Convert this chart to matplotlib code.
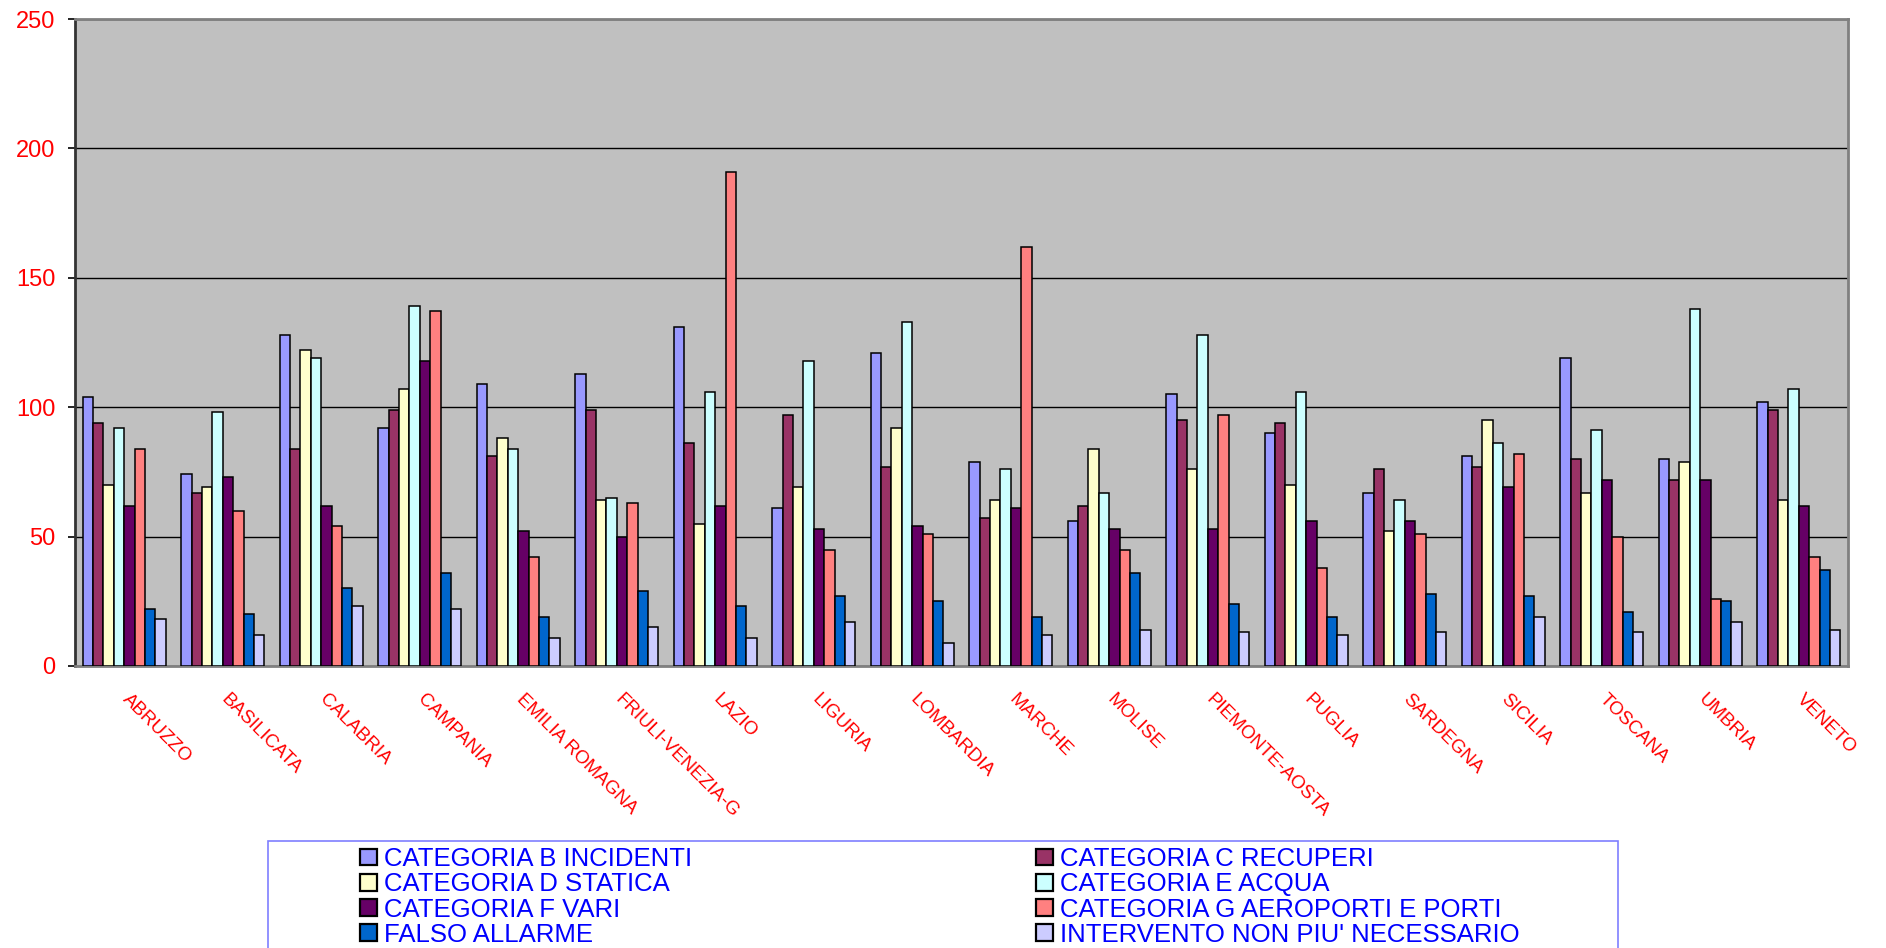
import numpy as np
import matplotlib
matplotlib.use('Agg')
import matplotlib.pyplot as plt
from matplotlib.patches import Rectangle, Patch
from matplotlib.transforms import ScaledTranslation

plt.rcParams['font.family'] = ['Liberation Sans', 'DejaVu Sans']

# dati per regione
regioni = ['ABRUZZO', 'BASILICATA', 'CALABRIA', 'CAMPANIA', 'EMILIA ROMAGNA',
           'FRIULI-VENEZIA-G', 'LAZIO', 'LIGURIA', 'LOMBARDIA', 'MARCHE',
           'MOLISE', 'PIEMONTE-AOSTA', 'PUGLIA', 'SARDEGNA', 'SICILIA',
           'TOSCANA', 'UMBRIA', 'VENETO']

cat_b = [104, 74, 128, 92, 109, 113, 131, 61, 121, 79, 56, 105, 90, 67, 81, 119, 80, 102]
cat_c = [94, 67, 84, 99, 81, 99, 86, 97, 77, 57, 62, 95, 94, 76, 77, 80, 72, 99]
cat_d = [70, 69, 122, 107, 88, 64, 55, 69, 92, 64, 84, 76, 70, 52, 95, 67, 79, 64]
cat_e = [92, 98, 119, 139, 84, 65, 106, 118, 133, 76, 67, 128, 106, 64, 86, 91, 138, 107]
cat_f = [62, 73, 62, 118, 52, 50, 62, 53, 54, 61, 53, 53, 56, 56, 69, 72, 72, 62]
cat_g = [84, 60, 54, 137, 42, 63, 191, 45, 51, 162, 45, 97, 38, 51, 82, 50, 26, 42]
falso = [22, 20, 30, 36, 19, 29, 23, 27, 25, 19, 36, 24, 19, 28, 27, 21, 25, 37]
interv = [18, 12, 23, 22, 11, 15, 11, 17, 9, 12, 14, 13, 12, 13, 19, 13, 17, 14]

nomi = ['CATEGORIA B INCIDENTI', 'CATEGORIA C RECUPERI', 'CATEGORIA D STATICA',
        'CATEGORIA E ACQUA', 'CATEGORIA F VARI', 'CATEGORIA G AEROPORTI E PORTI',
        'FALSO ALLARME', "INTERVENTO NON PIU' NECESSARIO"]
serie = [cat_b, cat_c, cat_d, cat_e, cat_f, cat_g, falso, interv]
colori = ['#9999FF', '#993366', '#FFFFCC', '#CCFFFF', '#660066', '#FF8080',
          '#0066CC', '#CCCCFF']

fig = plt.figure(figsize=(18.86, 9.48), dpi=100)
ax = fig.add_axes([75/1886, 1-666/948, 1773/1886, 647/948])
ax.set_facecolor('#C0C0C0')

x = np.arange(len(regioni))
w = 0.1056
for i, (vals, col) in enumerate(zip(serie, colori)):
    ax.bar(x + (i - 3.5) * w, vals, w, color=col, edgecolor='black', linewidth=1.1, zorder=3)

ax.set_xlim(-0.5, len(regioni) - 0.5)
ax.set_ylim(0, 250)
ax.set_yticks(range(0, 251, 50))
ax.yaxis.grid(True, color='black', linewidth=1, zorder=0)

for s in ['top', 'right', 'bottom']:
    ax.spines[s].set_color('#808080')
    ax.spines[s].set_linewidth(2)
ax.spines['left'].set_color('#333333')
ax.spines['left'].set_linewidth(2)

ax.tick_params(axis='y', colors='black', labelcolor='red', labelsize=17,
               length=5, width=1.2, pad=9)
ax.set_xticks(x)
ax.set_xticklabels(regioni, rotation=-45, ha='left', va='top',
                   rotation_mode='anchor', color='red', fontsize=13.5)
ax.tick_params(axis='x', length=0, pad=17.6)
sposta = ScaledTranslation(4.7/72, 0, fig.dpi_scale_trans)
for lab in ax.get_xticklabels():
    lab.set_transform(lab.get_transform() + sposta)

# legenda in due colonne
handles = [Patch(facecolor=c, edgecolor='black', linewidth=1.6) for c in colori]
opts = dict(loc='upper left', frameon=False, fontsize=18.5, borderpad=0,
            borderaxespad=0, handlelength=0.65, handleheight=0.62,
            handletextpad=0.3, labelspacing=0.05, labelcolor='#0000FF')
leg1 = fig.legend([handles[i] for i in (0, 2, 4, 6)], [nomi[i] for i in (0, 2, 4, 6)],
                  bbox_to_anchor=(360/1886, 1-847/948), **opts)
leg2 = fig.legend([handles[i] for i in (1, 3, 5, 7)], [nomi[i] for i in (1, 3, 5, 7)],
                  bbox_to_anchor=(1036/1886, 1-847/948), **opts)

fig.patches.append(Rectangle((268/1886, -0.05), 1350/1886, (948-841)/948 + 0.05,
                             transform=fig.transFigure, fill=False,
                             edgecolor='#7F7FFF', linewidth=1.2))

plt.savefig('out.png', dpi=100)
